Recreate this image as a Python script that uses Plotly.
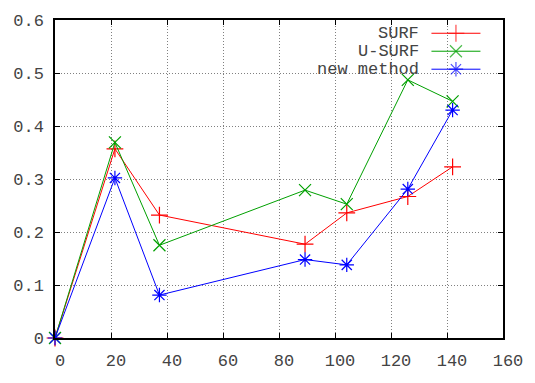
import plotly.graph_objects as go

x_surf = [0, 21.4, 37.3, 89.3, 104.2, 126, 142]
surf = [0, 0.357, 0.232, 0.177, 0.236, 0.267, 0.323]
usurf = [0, 0.369, 0.175, 0.279, 0.2525, 0.487, 0.4465]
newm = [0, 0.302, 0.081, 0.148, 0.138, 0.281, 0.430]
names = ["SURF", "U-SURF", "new method"]
colors = ["#ff0000", "#00a000", "#0000ff"]
symbols = ["cross-thin", "x-thin", "asterisk"]
series = [surf, usurf, newm]

x_ticks = [0, 20, 40, 60, 80, 100, 120, 140, 160]
y_ticks = [0, 0.1, 0.2, 0.3, 0.4, 0.5, 0.6]

W, H = 535, 383
L, R, T, B = 55, 23, 16, 31
pw, ph = W - L - R, H - T - B

FONT = "Liberation Mono, DejaVu Sans Mono, monospace"

fig = go.Figure()
for ys, n, c, s in zip(series, names, colors, symbols):
    fig.add_trace(go.Scatter(
        x=x_surf, y=ys, mode="lines+markers", name=n,
        line=dict(color=c, width=1),
        marker=dict(symbol=s, size=12, color=c, line=dict(color=c, width=1.2)),
        showlegend=False, cliponaxis=False))

# legend samples (gnuplot style: text then line sample)
rows_px = [30, 49, 68]
for i, (n, c, s) in enumerate(zip(names, colors, symbols)):
    yp = rows_px[i] - T
    fig.add_trace(go.Scatter(
        x=[439 - L, 464 - L, 489 - L], y=[yp, yp, yp], xaxis="x2", yaxis="y2",
        mode="lines+markers", line=dict(color=c, width=1),
        marker=dict(symbol=s, size=[0, 12, 0], color=c, line=dict(color=c, width=1.2)),
        showlegend=False, hoverinfo="skip"))
    fig.add_annotation(text=n, xref="paper", yref="paper",
                       x=(428 - L) / pw, y=(H - B - rows_px[i]) / ph,
                       xanchor="right", yanchor="middle", showarrow=False,
                       font=dict(family=FONT, size=17, color="#444"))

fig.add_shape(type="rect", xref="paper", yref="paper",
              x0=(313 - L) / pw, x1=(500 - L) / pw,
              y0=(H - B - 76) / ph, y1=(H - B - 20) / ph,
              fillcolor="white", line=dict(width=0), layer="between")

axis_common = dict(
    showline=True, linecolor="black", linewidth=1.5, mirror="ticks",
    ticks="inside", ticklen=5, tickcolor="black",
    showgrid=True, gridcolor="#808080", griddash="1px,2px", gridwidth=1,
    zeroline=False, tickfont=dict(family=FONT, size=17, color="#444"))

fig.update_layout(
    width=W, height=H, margin=dict(l=L, r=R, t=T, b=B),
    paper_bgcolor="white", plot_bgcolor="white",
    xaxis=dict(range=[0, 160], tickvals=x_ticks, ticktext=[str(v) for v in x_ticks],
               ticklabelshift=5, ticklabelstandoff=6, **axis_common),
    yaxis=dict(range=[0, 0.6], tickvals=y_ticks, ticktext=[("%g" % v) for v in y_ticks],
               ticklabelstandoff=6, **axis_common),
    xaxis2=dict(overlaying="x", range=[0, pw], visible=False, fixedrange=True),
    yaxis2=dict(overlaying="y", range=[ph, 0], visible=False, fixedrange=True),
)

fig.write_html("out.html")
